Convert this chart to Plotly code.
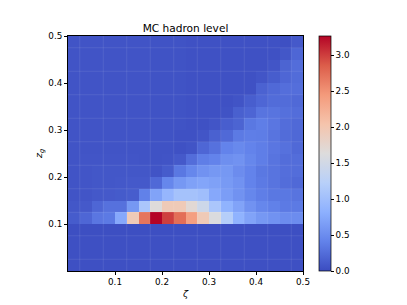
import plotly.graph_objects as go

zeta_edges = [0.025 * i for i in range(21)]
zg_edges = [0.025 * i for i in range(21)]
grid_positions = [0.025, 0.075, 0.125, 0.175, 0.225, 0.275, 0.325, 0.375, 0.425, 0.475]

row00 = [.03, .03, .03, .03, .03, .03, .03, .03, .03, .03, .03, .03, .03, .03, .03, .03, .03, .03, .03, .03]
row01 = [.03, .03, .03, .03, .03, .03, .03, .03, .03, .03, .03, .03, .03, .03, .03, .03, .03, .03, .03, .03]
row02 = [.03, .03, .03, .03, .03, .03, .03, .03, .03, .03, .03, .03, .03, .03, .03, .03, .03, .03, .03, .03]
row03 = [.02, .02, .02, .02, .02, .02, .02, .02, .02, .02, .02, .02, .02, .02, .02, .02, .02, .02, .02, .02]
row04 = [.12, .20, .32, .35, .75, 1.95, 2.70, 3.27, 3.00, 2.75, 2.40, 1.95, 1.60, 1.20, .85, .70, .60, .55, .50, .50]
row05 = [.08, .10, .20, .28, .28, .60, 1.10, 1.65, 1.95, 1.95, 1.70, 1.45, 1.10, .85, .70, .55, .45, .40, .35, .35]
row06 = [.06, .07, .09, .10, .11, .13, .40, .70, .90, 1.05, 1.05, 1.00, .75, .65, .55, .45, .38, .33, .33, .30]
row07 = [.06, .07, .08, .08, .09, .10, .10, .22, .45, .60, .68, .72, .68, .62, .55, .42, .35, .30, .25, .22]
row08 = [.06, .07, .08, .08, .08, .08, .08, .06, .12, .33, .45, .55, .60, .60, .50, .42, .33, .30, .26, .25]
row09 = [.06, .07, .07, .07, .07, .07, .06, .05, .06, .10, .25, .38, .42, .52, .55, .45, .38, .30, .25, .25]
row10 = [.06, .06, .06, .06, .06, .06, .06, .05, .05, .04, .06, .20, .28, .42, .47, .42, .38, .32, .28, .22]
row11 = [.06, .06, .06, .06, .06, .06, .06, .05, .05, .04, .04, .07, .16, .22, .35, .38, .37, .30, .24, .21]
row12 = [.06, .06, .06, .06, .06, .06, .06, .05, .05, .05, .04, .04, .07, .14, .18, .33, .38, .32, .25, .22]
row13 = [.06, .06, .06, .06, .06, .06, .06, .05, .05, .05, .04, .04, .04, .05, .15, .19, .30, .30, .27, .25]
row14 = [.06, .06, .06, .06, .06, .06, .06, .05, .05, .05, .04, .04, .04, .04, .06, .14, .20, .24, .24, .22]
row15 = [.06, .06, .06, .06, .06, .06, .06, .05, .05, .05, .04, .04, .04, .04, .04, .04, .17, .22, .26, .26]
row16 = [.06, .06, .06, .06, .06, .06, .06, .05, .05, .05, .04, .04, .04, .04, .04, .04, .07, .13, .20, .24]
row17 = [.06, .06, .06, .06, .06, .06, .06, .05, .05, .05, .04, .04, .04, .04, .04, .04, .04, .07, .18, .25]
row18 = [.06, .06, .06, .06, .06, .06, .06, .05, .05, .05, .04, .04, .04, .04, .04, .04, .04, .04, .08, .20]
row19 = [.06, .06, .06, .06, .06, .06, .06, .05, .05, .05, .04, .04, .04, .04, .04, .04, .04, .04, .03, .10]
density = [row00, row01, row02, row03, row04, row05, row06, row07, row08, row09,
           row10, row11, row12, row13, row14, row15, row16, row17, row18, row19]

coolwarm = [[0.0, "#3b4cc0"], [0.125, "#6282ea"], [0.25, "#8db0fe"], [0.375, "#b8d0f9"],
            [0.5, "#dddcdc"], [0.625, "#f5c4ac"], [0.75, "#f49a7b"], [0.875, "#dc5d4a"], [1.0, "#b40426"]]
FONT = "DejaVu Sans"
TEXT = "#000000"
W, H = 407, 305
L, R, T, B = 68, 303, 36, 271

fig = go.Figure(go.Heatmap(
    x=zeta_edges, y=zg_edges, z=density, colorscale=coolwarm, zmin=0, zmax=3.27,
    colorbar=dict(thickness=12, len=(B - T) / H, lenmode="fraction", y=1 - T / H, yanchor="top",
                  x=319 / W, xanchor="left", xpad=0, ypad=0,
                  tickvals=[0, .5, 1, 1.5, 2, 2.5, 3],
                  ticktext=["0.0", "0.5", "1.0", "1.5", "2.0", "2.5", "3.0"],
                  ticks="outside", ticklen=3, tickwidth=0.7, tickcolor="#000",
                  outlinewidth=0.7, outlinecolor="#000",
                  tickfont=dict(family=FONT, size=8.8, color=TEXT)),
))
for g in grid_positions:
    fig.add_shape(type="line", x0=g, x1=g, y0=0, y1=0.5, line=dict(color="rgba(255,255,255,0.09)", width=1), layer="above")
    fig.add_shape(type="line", y0=g, y1=g, x0=0, x1=0.5, line=dict(color="rgba(255,255,255,0.09)", width=1), layer="above")

axis_common = dict(range=[0, 0.5], tickvals=[.1, .2, .3, .4, .5], ticktext=["0.1", "0.2", "0.3", "0.4", "0.5"],
                   ticks="outside", ticklen=3, tickwidth=0.7, tickcolor="#000", showgrid=False, zeroline=False,
                   showline=True, linecolor="#000", linewidth=0.8, mirror=True, automargin=False,
                   tickfont=dict(family=FONT, size=8.8, color=TEXT))
fig.update_xaxes(**axis_common, domain=[L / W, R / W])
fig.update_yaxes(**axis_common, domain=[1 - B / H, 1 - T / H])
fig.add_annotation(text="<i>ζ</i>", xref="paper", yref="paper", x=185.5 / W, y=1 - 293 / H, showarrow=False,
                   xanchor="center", yanchor="middle", font=dict(family=FONT, size=9.5, color=TEXT))
fig.add_annotation(text="<i>z</i><sub><i>g</i></sub>", xref="paper", yref="paper", x=39 / W, y=1 - 154 / H, showarrow=False,
                   xanchor="center", yanchor="middle", textangle=-90, font=dict(family=FONT, size=9.5, color=TEXT))
fig.update_layout(
    width=W, height=H, autosize=False, paper_bgcolor="#fff", plot_bgcolor="#fff",
    margin=dict(l=0, r=0, t=0, b=0),
    title=dict(text="MC hadron level", x=185.5 / W, xanchor="center", xref="paper", y=1 - 28 / H, yanchor="middle",
               font=dict(family=FONT, size=10.6, color=TEXT), automargin=False),
)
fig.write_html("out.html", config={"displayModeBar": False},
               post_script="document.body.style.margin='0';document.body.style.overflow='hidden';")
